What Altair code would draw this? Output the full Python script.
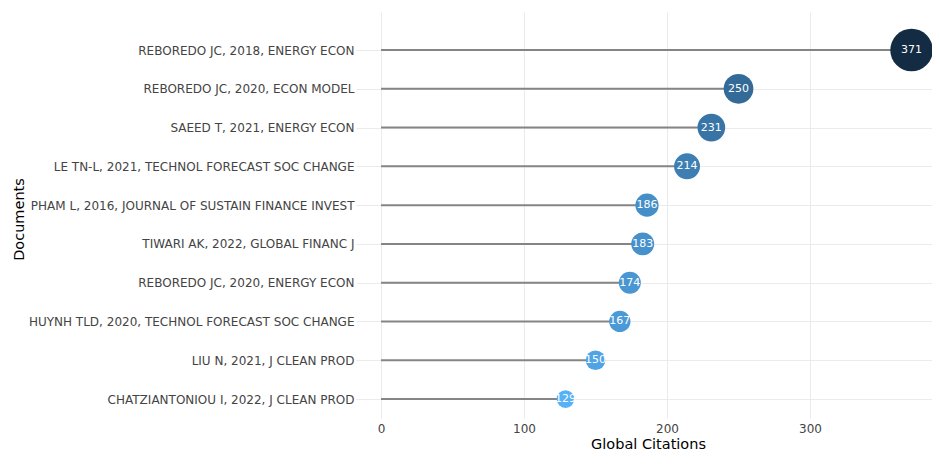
import altair as alt
import pandas as pd

docs = [
    "REBOREDO JC, 2018, ENERGY ECON",
    "REBOREDO JC, 2020, ECON MODEL",
    "SAEED T, 2021, ENERGY ECON",
    "LE TN-L, 2021, TECHNOL FORECAST SOC CHANGE",
    "PHAM L, 2016, JOURNAL OF SUSTAIN FINANCE INVEST",
    "TIWARI AK, 2022, GLOBAL FINANC J",
    "REBOREDO JC, 2020, ENERGY ECON ",
    "HUYNH TLD, 2020, TECHNOL FORECAST SOC CHANGE",
    "LIU N, 2021, J CLEAN PROD",
    "CHATZIANTONIOU I, 2022, J CLEAN PROD",
]
citations = [371, 250, 231, 214, 186, 183, 174, 167, 150, 129]
x_ticks = [0, 100, 200, 300]

df = pd.DataFrame({"doc": docs, "cites": citations})

FONT = "DejaVu Sans"

yenc = alt.Y(
    "doc:N",
    sort=docs,
    scale=alt.Scale(type="point", padding=0.735, align=0.667),
    axis=alt.Axis(
        title="Documents",
        ticks=False,
        domain=False,
        grid=True,
        gridColor="#ebebeb",
        labelPadding=2,
        labelLimit=0,
        labelColor="#444444",
        labelFontSize=12,
        labelFont=FONT,
        titleFont=FONT,
        titleFontSize=14.5,
        titleFontWeight="normal",
        titleColor="#000000",
        titleX=-337,
        titleY=207,
        titleAngle=-90,
        titleAlign="center",
        titleBaseline="middle",
    ),
)

xscale = alt.Scale(domain=[-17.5, 385.3], nice=False, zero=False)
xaxis = alt.Axis(
    title="Global Citations",
    values=x_ticks,
    ticks=False,
    domain=False,
    grid=True,
    gridColor="#ebebeb",
    labelPadding=5,
    labelColor="#444444",
    labelFontSize=12,
    labelFont=FONT,
    titleFont=FONT,
    titleFontSize=14.5,
    titleFontWeight="normal",
    titleColor="#000000",
    titleX=292,
    titleY=30,
    titleAlign="center",
    titleBaseline="alphabetic",
)

base = alt.Chart(df)

rules = base.mark_rule(color="#858585", strokeWidth=2).encode(
    y=yenc,
    x=alt.X("zero:Q", scale=xscale, axis=xaxis),
    x2="cites:Q",
).transform_calculate(zero="0")

dots = base.mark_circle(opacity=1).encode(
    y=alt.Y("doc:N", sort=docs),
    x=alt.X("cites:Q", scale=xscale),
    size=alt.Size(
        "cites:Q",
        scale=alt.Scale(type="pow", exponent=2, domain=[129, 371], range=[314, 1810]),
        legend=None,
    ),
    color=alt.Color(
        "cites:Q",
        scale=alt.Scale(domain=[129, 371], range=["#56B1F7", "#132B43"], interpolate="lab"),
        legend=None,
    ),
)

labels = base.mark_text(
    color="white", fontSize=11, font=FONT, align="center", baseline="middle"
).encode(
    y=alt.Y("doc:N", sort=docs),
    x=alt.X("cites:Q", scale=xscale),
    text="cites:Q",
)

chart = (
    alt.layer(rules, dots, labels)
    .properties(
        width=576,
        height=406,
        autosize=alt.AutoSizeParams(type="none"),
        padding={"left": 348, "top": 4, "right": 0, "bottom": 34},
        background="white",
    )
    .configure_view(stroke=None)
)

chart.save("out.html", embed_options={"renderer": "svg", "actions": False})
